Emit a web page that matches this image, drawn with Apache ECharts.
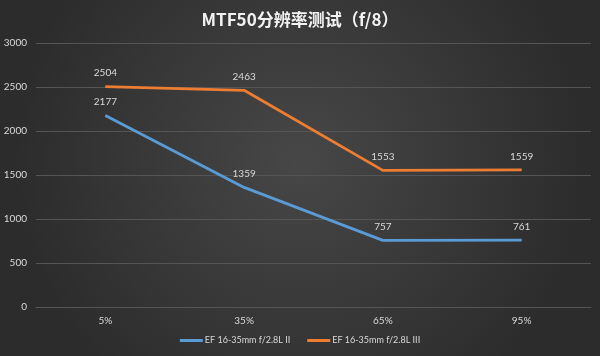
<!DOCTYPE html>
<html><head><meta charset="utf-8">
<script src="https://cdn.jsdelivr.net/npm/echarts@6/dist/echarts.min.js"></script>
<style>html,body{margin:0;padding:0;background:#3a3a3a}#c{width:600px;height:356px}</style>
</head><body><div id="c"></div>
<script>
const titleText = 'MTF50分辨率测试（f/8）';
const categories = ['5%', '35%', '65%', '95%'];
const seriesNames = ['EF 16-35mm f/2.8L II', 'EF 16-35mm f/2.8L III'];
const seriesII = [2177, 1359, 757, 761];
const seriesIII = [2504, 2463, 1553, 1559];
const yTicks = [0, 500, 1000, 1500, 2000, 2500, 3000];

const chart = echarts.init(document.getElementById('c'));
const font = 'Lato, "Noto Sans CJK SC", sans-serif';
const label = {show: true, position: 'top', distance: 8, color: '#d9d9d9', fontSize: 10, fontFamily: font};
chart.setOption({
  backgroundColor: {type: 'radial', x: 0.5, y: 0.45, r: 0.8, colorStops: [
    {offset: 0, color: '#474747'}, {offset: 1, color: '#2c2c2c'}]},
  title: {text: titleText, left: 'center', top: 6,
    textStyle: {color: '#f2f2f2', fontSize: 17, fontWeight: 'bold', fontFamily: '"Noto Sans CJK SC", sans-serif'}},
  grid: {left: 36, right: 9, top: 43, bottom: 49, containLabel: false},
  legend: {bottom: 6, left: 'center', itemWidth: 23, itemHeight: 3, itemGap: 17,
    icon: 'rect', textStyle: {color: '#d9d9d9', fontSize: 9, fontFamily: font, padding: [0, 0, 0, -3]},
    data: seriesNames},
  xAxis: {type: 'category', data: categories, boundaryGap: true,
    axisLine: {show: true, lineStyle: {color: '#555'}}, axisTick: {show: false},
    axisLabel: {color: '#d9d9d9', fontSize: 10, margin: 9, fontFamily: font}},
  yAxis: {type: 'value', min: yTicks[0], max: yTicks[yTicks.length - 1], interval: 500,
    axisLine: {show: false}, axisTick: {show: false},
    splitLine: {lineStyle: {color: '#555', width: 1}},
    axisLabel: {color: '#d9d9d9', fontSize: 10, margin: 9, fontFamily: font,
      formatter: v => String(v)}},
  series: [
    {name: seriesNames[0], type: 'line', data: seriesII, symbol: 'circle', symbolSize: 1, showSymbol: true,
      lineStyle: {color: '#5b9bd5', width: 2.75}, itemStyle: {color: '#5b9bd5'}, label: label},
    {name: seriesNames[1], type: 'line', data: seriesIII, symbol: 'circle', symbolSize: 1, showSymbol: true,
      lineStyle: {color: '#ed7d31', width: 2.75}, itemStyle: {color: '#ed7d31'}, label: label}
  ]
});
</script></body></html>
